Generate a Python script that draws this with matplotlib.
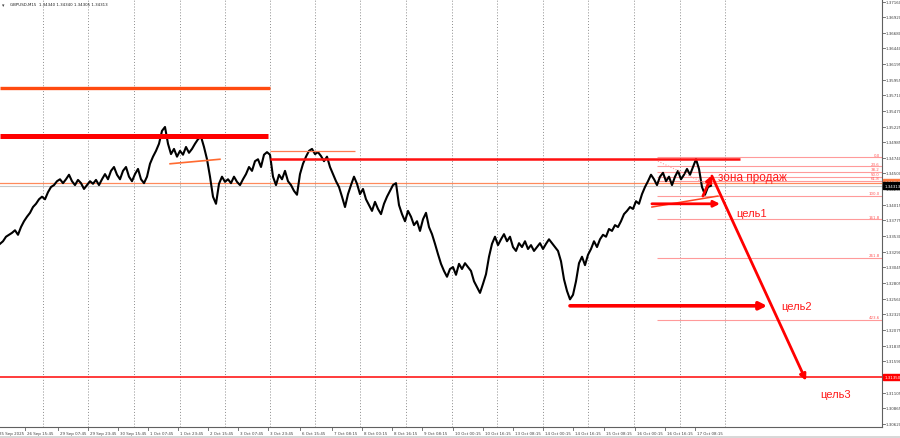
import matplotlib
matplotlib.use("Agg")
import matplotlib.pyplot as plt
import matplotlib.transforms as mtransforms

# GBPUSD M15 closes, one value per 3 px step of the original chart
close = [
    1.3341, 1.3345, 1.3352, 1.3355, 1.3358, 1.3362, 1.3355, 1.3367, 1.3376, 1.3383,
    1.3389, 1.3398, 1.3403, 1.3410, 1.3414, 1.3410, 1.3421, 1.3429, 1.3432, 1.3438,
    1.3441, 1.3435, 1.3441, 1.3448, 1.3438, 1.3432, 1.3440, 1.3435, 1.3426, 1.3432,
    1.3438, 1.3434, 1.3440, 1.3432, 1.3441, 1.3449, 1.3441, 1.3454, 1.3460, 1.3448,
    1.3441, 1.3454, 1.3460, 1.3445, 1.3438, 1.3449, 1.3457, 1.3441, 1.3435, 1.3445,
    1.3465, 1.3476, 1.3485, 1.3496, 1.3516, 1.3522, 1.3496, 1.3480, 1.3488, 1.3476,
    1.3485, 1.3479, 1.3491, 1.3482, 1.3488, 1.3496, 1.3503, 1.3507, 1.3491, 1.3472,
    1.3445, 1.3414, 1.3403, 1.3434, 1.3445, 1.3437, 1.3441, 1.3435, 1.3445, 1.3437,
    1.3432, 1.3441, 1.3449, 1.3460, 1.3454, 1.3469, 1.3472, 1.3460, 1.3479, 1.3483,
    1.3479, 1.3445, 1.3432, 1.3448, 1.3441, 1.3454, 1.3438, 1.3432, 1.3423, 1.3417,
    1.3449, 1.3465, 1.3476, 1.3485, 1.3488, 1.3480, 1.3483, 1.3477, 1.3469, 1.3476,
    1.3460, 1.3449, 1.3438, 1.3429, 1.3414, 1.3398, 1.3418, 1.3432, 1.3445, 1.3434,
    1.3418, 1.3426, 1.3410, 1.3401, 1.3392, 1.3406, 1.3395, 1.3387, 1.3403, 1.3414,
    1.3423, 1.3432, 1.3435, 1.3401, 1.3387, 1.3376, 1.3392, 1.3383, 1.3370, 1.3376,
    1.3361, 1.3379, 1.3389, 1.3367, 1.3356, 1.3341, 1.3325, 1.3310, 1.3299, 1.3290,
    1.3302, 1.3305, 1.3293, 1.3310, 1.3302, 1.3311, 1.3305, 1.3299, 1.3283, 1.3274,
    1.3265, 1.3279, 1.3294, 1.3321, 1.3341, 1.3352, 1.3339, 1.3348, 1.3356, 1.3345,
    1.3352, 1.3336, 1.3330, 1.3342, 1.3336, 1.3345, 1.3333, 1.3339, 1.3330, 1.3336,
    1.3342, 1.3333, 1.3341, 1.3348, 1.3342, 1.3336, 1.3330, 1.3314, 1.3286, 1.3268,
    1.3255, 1.3262, 1.3283, 1.3311, 1.3321, 1.3308, 1.3324, 1.3333, 1.3345, 1.3336,
    1.3348, 1.3355, 1.3352, 1.3364, 1.3361, 1.3370, 1.3367, 1.3376, 1.3387, 1.3392,
    1.3398, 1.3395, 1.3407, 1.3403, 1.3418, 1.3429, 1.3438, 1.3448, 1.3441, 1.3432,
    1.3445, 1.3451, 1.3438, 1.3445, 1.3432, 1.3445, 1.3454, 1.3441, 1.3448, 1.3457,
    1.3448, 1.3460, 1.3472, 1.3457, 1.3429, 1.3417, 1.3429, 1.3431,
]
bars = list(range(len(close)))

# time axis labels (bar position, text)
time_pos = [-1, 8.3, 19.3, 29.3, 39.3, 49.3, 59.3, 69.3, 79.3, 89.3, 100, 110.7,
            120.7, 130.7, 140.7, 151, 161, 171, 181, 191, 201.3, 211.7, 221.7, 231.7]
time_labels = ["25 Sep 2025", "26 Sep 15:45", "29 Sep 07:45", "29 Sep 23:45",
               "30 Sep 15:45", "1 Oct 07:45", "1 Oct 23:45", "2 Oct 15:45",
               "3 Oct 07:45", "3 Oct 23:45", "6 Oct 15:45", "7 Oct 08:15",
               "8 Oct 00:15", "8 Oct 16:15", "9 Oct 08:15", "10 Oct 00:15",
               "10 Oct 16:15", "13 Oct 08:15", "14 Oct 00:15", "14 Oct 16:15",
               "15 Oct 08:15", "16 Oct 00:15", "16 Oct 16:15", "17 Oct 08:15"]
grid_pos = [14.3, 29.3, 44.7, 60, 75, 90, 105, 120, 135.3, 150.7, 165.7, 181,
            196, 211.3, 226.7, 241.7]

# price axis labels
price_ticks = [1.37160, 1.36920, 1.36680, 1.36440, 1.36195, 1.35955, 1.35710,
               1.35470, 1.35225, 1.34985, 1.34740, 1.34500, 1.34255, 1.34015,
               1.33775, 1.33530, 1.33290, 1.33045, 1.32805, 1.32560, 1.32320,
               1.32075, 1.31835, 1.31590, 1.31350, 1.31105, 1.30865, 1.30620]

# drawn levels
orange_level = 1.3582
red_zone = 1.3508
resist = 1.3472
thin_level = 1.3485
mid_level = 1.3435
target3 = 1.3135
bid = 1.34313

fib_high = 1.3475
fib_low = 1.34155
fib_ratios = [0.0, 23.6, 38.2, 50.0, 61.8, 100.0, 161.8, 261.8, 423.6]
fib_start = 219

small = 2.9

fig = plt.figure(figsize=(9, 4.39), dpi=100)
ax = fig.add_axes([0, 11 / 439, 882 / 900, 428 / 439])
ax.set_xlim(0, 294)
ax.set_ylim(1.30573, 1.37202)

for g in grid_pos:
    ax.axvline(g, color="#8c8c8c", ls=(0, (1, 2)), lw=0.7, zorder=1)

ax.axhline(mid_level, color="#ff8a5c", lw=0.9, zorder=2)
ax.axhline(bid, color="#c8c8c8", lw=0.8, zorder=2)
ax.axhline(target3, color="#ff1a1a", lw=1.2, zorder=2)

ax.plot(bars, close, color="black", lw=1.5, zorder=3)

ax.hlines(orange_level, 0, 90, color="#ff4a10", lw=2.4, zorder=4)
ax.hlines(red_zone, 0, 89.3, color="#ff0000", lw=3.6, zorder=4)
ax.hlines(thin_level, 90, 118.3, color="#ff7a50", lw=0.9, zorder=4)
ax.hlines(resist, 90, 246.7, color="#ff1010", lw=1.8, zorder=4)
ax.plot([56.7, 73.3], [1.3465, 1.3472], color="#ff6a30", lw=1.2, zorder=4)

# fibonacci
rng = fib_high - fib_low
for r in fib_ratios:
    lvl = fib_high - r / 100 * rng
    ax.hlines(lvl, fib_start, 294, color="#ff9a9a", lw=0.8, zorder=2)
    ax.text(293.3, lvl + 0.00012, f"{r:.1f}", color="#ff5a5a", fontsize=small,
            ha="right", va="bottom", zorder=5)
ax.plot([219.3, 236.7], [1.3469, 1.3431], color="#ff9a9a", lw=0.8,
        ls=(0, (1, 1.5)), zorder=4)

# trade idea
ax.plot([217.3, 239.3], [1.3398, 1.3415], color="#ff4020", lw=1.1, zorder=5)
arrow = dict(arrowstyle="-|>", color="#ff0000", lw=2.0, mutation_scale=9,
             shrinkA=0, shrinkB=0)
ax.annotate("", xy=(240, 1.3403), xytext=(217.3, 1.3403), arrowprops=arrow, zorder=6)
ax.annotate("", xy=(237.3, 1.3447), xytext=(234.3, 1.3415), arrowprops=arrow, zorder=6)
ax.annotate("", xy=(268.7, 1.3129), xytext=(237.3, 1.3446), arrowprops=arrow, zorder=6)
arrow2 = dict(arrow, lw=2.6, mutation_scale=11)
ax.annotate("", xy=(255.7, 1.3245), xytext=(190, 1.3245), arrowprops=arrow2, zorder=6)

txt = dict(color="#ff1a1a", family="Liberation Sans", zorder=7, va="center")
ax.text(239.3, 1.3444, "зона продаж", fontsize=8.5, **txt)
ax.text(245.3, 1.3389, "цель1", fontsize=8, **txt)
ax.text(260.3, 1.3245, "цель2", fontsize=8, **txt)
ax.text(273.3, 1.3108, "цель3", fontsize=8, **txt)

# axes look
for side in ["left", "top"]:
    ax.spines[side].set_visible(False)
ax.spines["right"].set_color("#606060")
ax.spines["bottom"].set_color("#606060")
ax.spines["right"].set_linewidth(0.8)
ax.spines["bottom"].set_linewidth(0.8)
ax.set_xticks([])
ax.set_yticks([])

tr_y = mtransforms.blended_transform_factory(ax.transAxes, ax.transData)
for p in price_ticks:
    ax.plot([1.0, 1.003], [p, p], color="#606060", lw=0.6, transform=tr_y, clip_on=False)
    ax.text(1.0035, p, f"{p:.5f}", transform=tr_y, fontsize=small, color="#404040",
            va="center", ha="left", clip_on=False)


def price_box(p, face, label):
    ax.text(1.0025, p, label, transform=tr_y, fontsize=small, color="white",
            va="center", ha="left", clip_on=False, zorder=10,
            bbox=dict(boxstyle="square,pad=0.3", fc=face, ec=face))


price_box(mid_level + 0.0002, "#ff7a40", f"{mid_level:.5f}")
price_box(bid, "black", f"{bid:.5f}")
price_box(target3, "#ff0000", f"{target3:.5f}")

tr_x = mtransforms.blended_transform_factory(ax.transData, ax.transAxes)
for pos, lab in zip(time_pos, time_labels):
    ax.plot([pos, pos], [0, -0.008], color="#606060", lw=0.6, transform=tr_x, clip_on=False)
    ax.text(pos + 0.6, -0.01, lab, transform=tr_x, fontsize=small, color="#404040",
            ha="left", va="top", clip_on=False)

ax.text(0.002, 0.992, "▾", transform=ax.transAxes, fontsize=3.5, color="#404040",
        ha="left", va="top")
ax.text(0.011, 0.992, "GBPUSD,M15  1.34340 1.34340 1.34305 1.34313", transform=ax.transAxes,
        fontsize=small, color="#202020", ha="left", va="top")

# bottom window strip
fig.patches.append(plt.Rectangle((0, 0), 1, 2 / 439, transform=fig.transFigure,
                                 fc="#d8d8d8", ec="none"))

fig.savefig("out.png", dpi=100)
